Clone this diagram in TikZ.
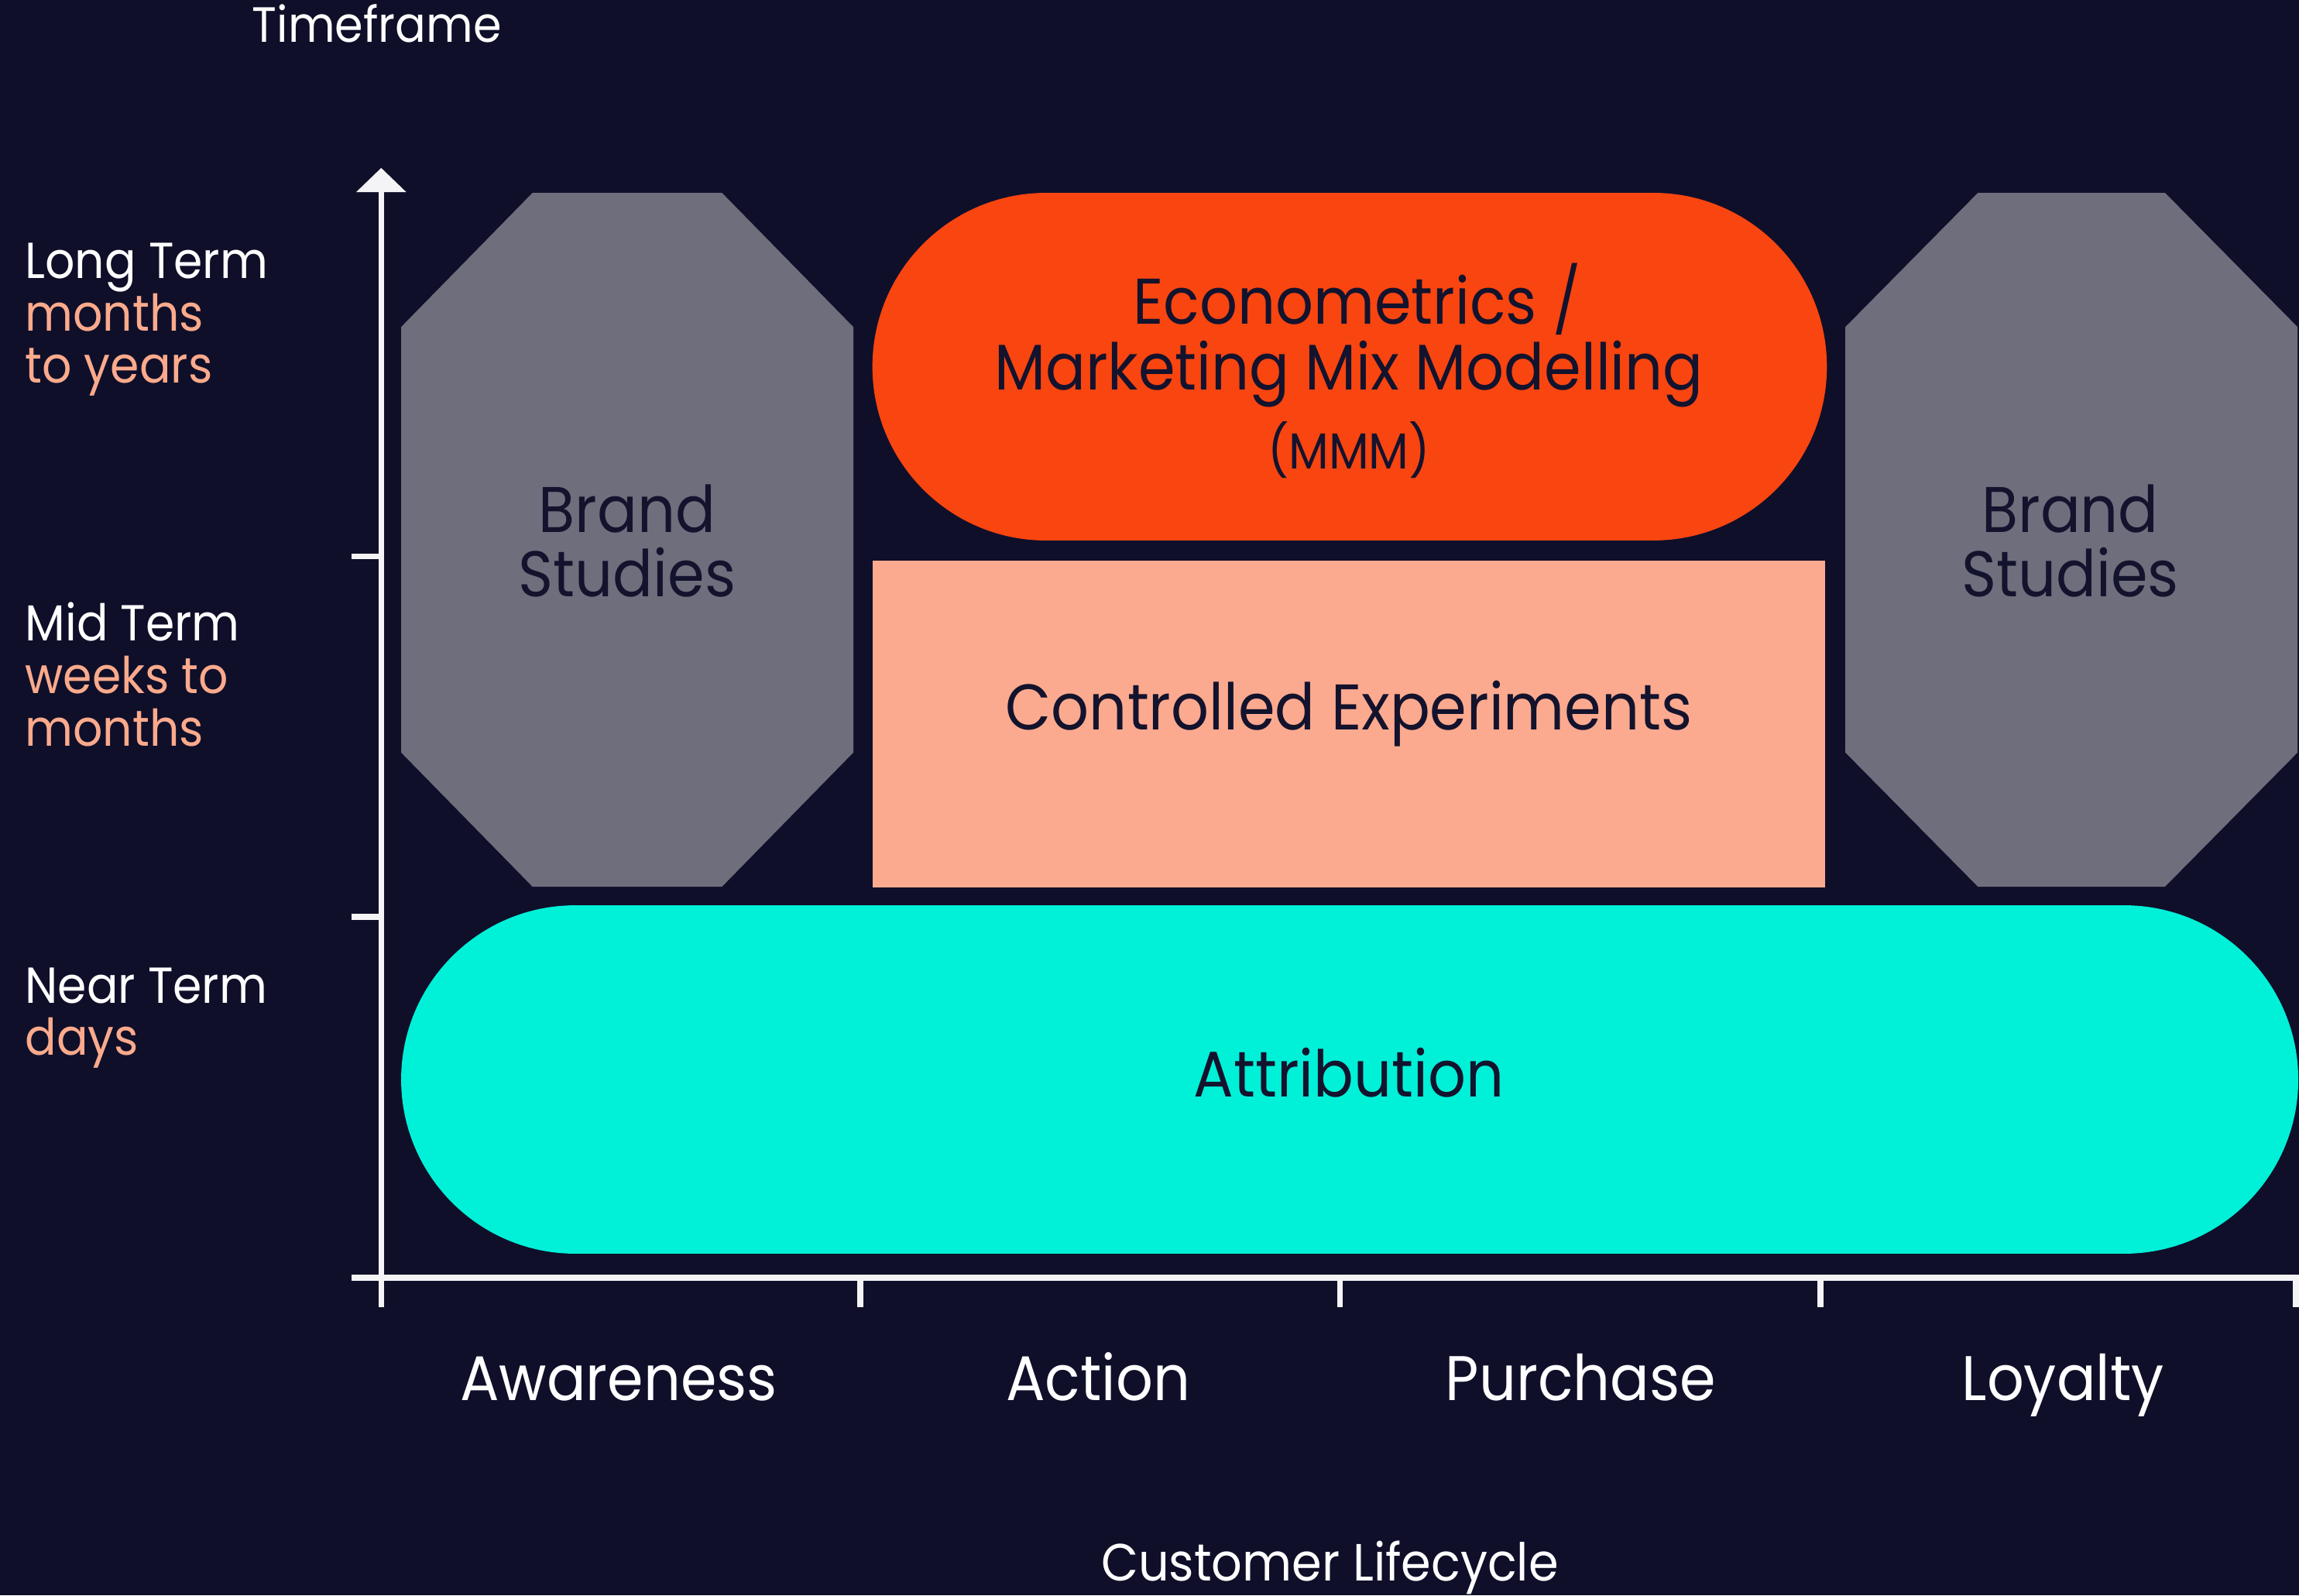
\documentclass[tikz,border=0pt]{standalone}
\usepackage{fontspec}
\setmainfont{Poppins}[FakeStretch=0.92]
\usetikzlibrary{arrows.meta}
\definecolor{bgc}{HTML}{0F0F2A}
\definecolor{greyc}{HTML}{6F6E7D}
\definecolor{orangec}{HTML}{F94510}
\definecolor{salmonc}{HTML}{FCAA8F}
\definecolor{cyanc}{HTML}{00F1D8}
\definecolor{darkc}{HTML}{13132D}
\definecolor{axisc}{HTML}{F4F4F6}
\definecolor{peachc}{HTML}{FBAA8C}
\tikzset{
  axisline/.style={draw=axisc, line width=4pt},
  sidelabel/.style={anchor=base west, inner sep=0pt, text=white, font=\fontsize{34.5}{36}\selectfont},
  sidesub/.style={sidelabel, text=peachc},
  boxlabel/.style={anchor=base, inner sep=0pt, text=darkc, font=\fontsize{44}{44}\selectfont},
  smalllabel/.style={boxlabel, font=\fontsize{34.5}{35}\selectfont},
  stagelabel/.style={anchor=base, inner sep=0pt, text=white, font=\fontsize{43}{43}\selectfont},
  titlelabel/.style={anchor=base, inner sep=0pt, text=white, font=\fontsize{33.8}{34}\selectfont},
  footlabel/.style={titlelabel, font=\fontsize{35.7}{36}\selectfont},
}
\begin{document}
\begin{tikzpicture}[x=1pt,y=-1pt]
\useasboundingbox (0,0) rectangle (1568,1088);
\fill[bgc] (0,0) rectangle (1568,1088);

% shapes
\fill[greyc] (363.2,131.5) -- (492.4,131.5) -- (582,223) -- (582,513.2) -- (492.4,604.7) -- (363.2,604.7) -- (273.6,513.2) -- (273.6,223) -- cycle;
\coordinate (brandL) at (427.8,368.1);
\fill[greyc] (1349,131.5) -- (1476.6,131.5) -- (1567,223) -- (1567,513.2) -- (1476.6,604.7) -- (1349,604.7) -- (1258.6,513.2) -- (1258.6,223) -- cycle;
\coordinate (brandR) at (1412.8,368.1);
\fill[orangec, rounded corners=118.5pt] (595,131.5) rectangle (1246,368.6);
\fill[salmonc] (595,382.3) rectangle (1245,605.1);
\fill[cyanc, rounded corners=118.8pt] (273.6,617.4) rectangle (1567.5,855);

% axes
\coordinate (origin) at (260,871.5);
\coordinate (ybottom) at (260,891.5);
\coordinate (ytop) at (260,114.5);
\coordinate (xleft) at (240,871.5);
\coordinate (xright) at (1568,871.5);
\draw[axisline, -{Triangle[width=33.2pt,length=16.5pt]}] (ybottom) -- (ytop);
\draw[axisline] (xleft) -- (xright);
\coordinate (yt1a) at (240,379.4); \coordinate (yt1b) at (260,379.4);
\coordinate (yt2a) at (240,625.3); \coordinate (yt2b) at (260,625.3);
\draw[axisline] (yt1a) -- (yt1b);
\draw[axisline] (yt2a) -- (yt2b);
\foreach \i/\xx in {1/586.8,2/914,3/1241.5,4/1566} {
  \coordinate (xt\i a) at (\xx,871.5);
  \coordinate (xt\i b) at (\xx,891.5);
  \draw[axisline] (xt\i a) -- (xt\i b);
}

% texts
\node[titlelabel] (timeframe) at (257,29) {Timeframe};
\node[sidelabel] (longT) at (17,190) {Long Term};
\node[sidesub] (longA) at (17,225.8) {months};
\node[sidesub] (longB) at (17,261.3) {to years};
\node[sidelabel] (midT) at (17,437.2) {Mid Term};
\node[sidesub] (midA) at (17,472.7) {weeks to};
\node[sidesub] (midB) at (17,509) {months};
\node[sidelabel] (nearT) at (17,684) {Near Term};
\node[sidesub] (nearA) at (17,719.5) {days};

\node[boxlabel] (bl1) at (427.8,363) {Brand};
\node[boxlabel] (bl2) at (427.8,407) {Studies};
\node[boxlabel] (br1) at (1412,363) {Brand};
\node[boxlabel] (br2) at (1412,407) {Studies};
\node[boxlabel] (eco1) at (925.5,220.8) {Econometrics /};
\node[boxlabel] (eco2) at (920,265.8) {Marketing Mix Modelling};
\node[smalllabel] (eco3) at (920,320) {(MMM)};
\node[boxlabel] (ctrl) at (920,498) {Controlled Experiments};
\node[boxlabel] (attr) at (920,748) {Attribution};

\node[stagelabel] (aware) at (422,955) {Awareness};
\node[stagelabel] (action) at (749,955) {Action};
\node[stagelabel] (purch) at (1078,955) {Purchase};
\node[stagelabel] (loyal) at (1407,955) {Loyalty};
\node[footlabel] (lifecycle) at (907,1078) {Customer Lifecycle};
\end{tikzpicture}
\end{document}
